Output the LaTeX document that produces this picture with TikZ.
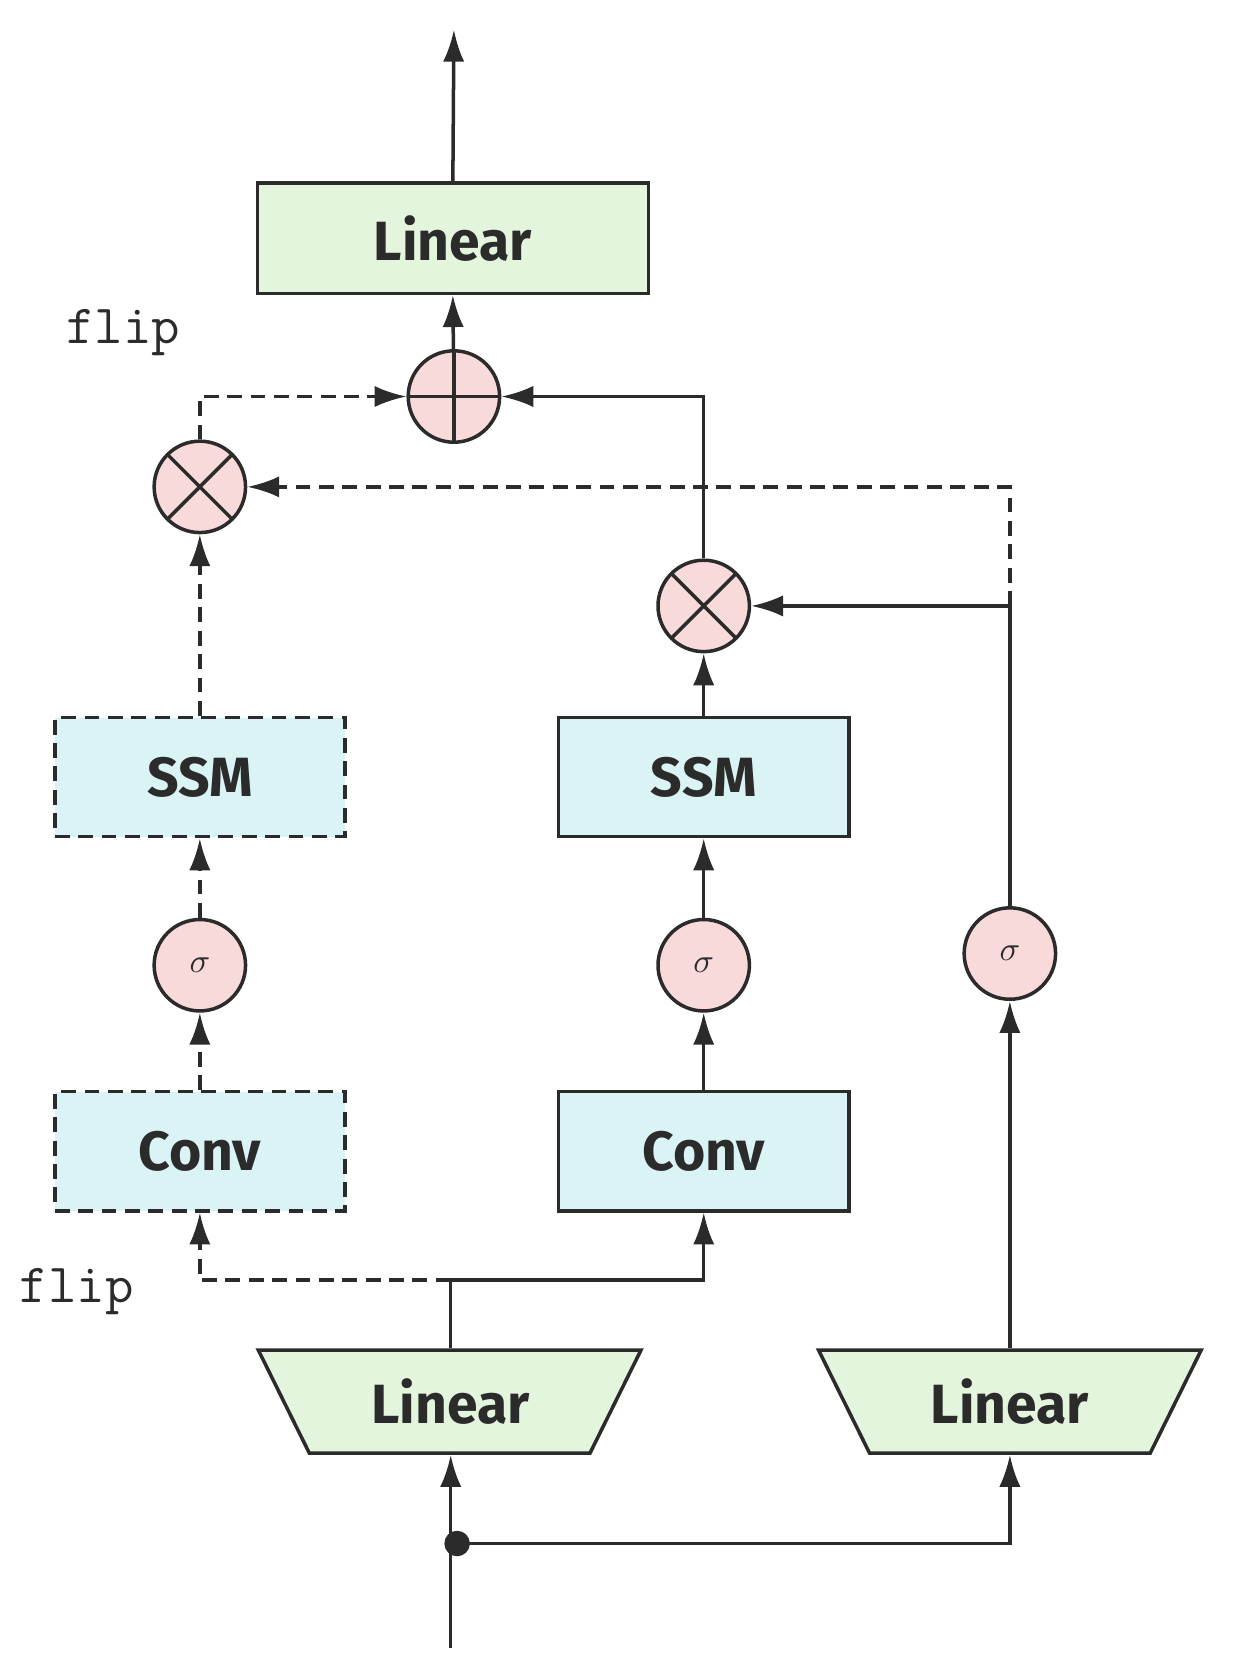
\documentclass[tikz,border=0pt]{standalone}
\usepackage{fontspec}
\setmainfont{Fira Sans}
\usetikzlibrary{arrows.meta}
\definecolor{ln}{HTML}{2B2B2B}
\definecolor{gfill}{HTML}{E3F5DC}
\definecolor{cfill}{HTML}{DAF3F5}
\definecolor{pfill}{HTML}{F9DADA}
\begin{document}
\begin{tikzpicture}[x=1pt,y=-1pt,
  every path/.style={line width=3.3pt,color=ln},
  arr/.style={-{Latex[length=30pt,width=20pt]}},
  dsh/.style={dash pattern=on 14pt off 8pt},
  lbl/.style={font=\fontsize{52}{52}\selectfont\bfseries,text=ln},
  box/.style={draw=ln,line width=3.3pt,minimum width=273pt,minimum height=112pt,fill=cfill,lbl},
  circ/.style={circle,draw=ln,line width=3.3pt,fill=pfill,minimum size=86pt,inner sep=0pt},
  times/.style={circ,path picture={\draw[line width=3.3pt] ([xshift=-30pt,yshift=30pt]path picture bounding box.center) -- ++(60pt,-60pt) ([xshift=-30pt,yshift=-30pt]path picture bounding box.center) -- ++(60pt,60pt);}},
  plus/.style={circ,path picture={\draw[line width=3.3pt] ([xshift=-43pt]path picture bounding box.center) -- ++(86pt,0) ([yshift=-43pt]path picture bounding box.center) -- ++(0,86pt);}},
  sig/.style={circ,text=ln},
  flip/.style={font=\fontsize{52}{52}\selectfont\ttfamily,text=ln}]
\useasboundingbox (0,0) rectangle (1160,1555);
\newcommand{\mysig}{\scalebox{3.2}{$\sigma$}}
% top
\node[box,fill=gfill,minimum width=368pt,minimum height=104pt] (lin) at (426,224) {Linear};
\coordinate (out) at (427,28);
\draw[arr] (lin.north) -- (out);
\node[plus] (plus) at (427,373) {};
\draw[arr] (plus) -- (lin.south);
\node[flip] (f1) at (116,313) {flip};
\node[times] (tl) at (188,458) {};
\node[times] (tr) at (662,570) {};
\draw[arr,dsh] (tl.north) |- (plus.west);
\draw[arr] (tr.north) |- (plus.east);
\coordinate (j) at (950,570);
\draw[arr,dsh] (j) |- (tl.east);
% SSM
\node[box,dsh] (ssml) at (188,731) {SSM};
\node[box] (ssmr) at (662,731) {SSM};
\draw[arr,dsh] (ssml) -- (tl);
\draw[arr] (ssmr) -- (tr);
\node[sig] (sl) at (188,908) {\mysig};
\node[sig] (sm) at (662,908) {\mysig};
\node[sig] (sr) at (950,897) {\mysig};
\draw[arr,dsh] (sl) -- (ssml);
\draw[arr] (sm) -- (ssmr);
\draw[arr] (sr.north) |- (tr.east);
\node[box,dsh] (cl) at (188,1083) {Conv};
\node[box] (cr) at (662,1083) {Conv};
\draw[arr,dsh] (cl) -- (sl);
\draw[arr] (cr) -- (sm);
\node[flip] (f2) at (72,1215) {flip};
% bottom linears
\draw[fill=gfill] (243,1270) -- (603,1270) -- (555,1367) -- (291,1367) -- cycle;
\draw[fill=gfill] (770,1270) -- (1130,1270) -- (1082,1367) -- (818,1367) -- cycle;
\node[lbl,minimum height=97pt,minimum width=264pt] (l1) at (424,1318.5) {Linear};
\node[lbl,minimum height=97pt,minimum width=264pt] (l2) at (950,1318.5) {Linear};
\coordinate (s) at (424,1204);
\draw (l1.north) -- (s);
\draw[arr,dsh] (s) -| (cl.south);
\draw[arr] (s) -| (cr.south);
\draw[arr] (l2.north) -- (sr);
\coordinate (in) at (424,1550);
\coordinate (d) at (424,1452);
\draw[arr] (in) -- (l1.south);
\fill[ln] (430,1452) circle (12pt);
\draw[arr] (d) -| (l2.south);
\end{tikzpicture}
\end{document}
